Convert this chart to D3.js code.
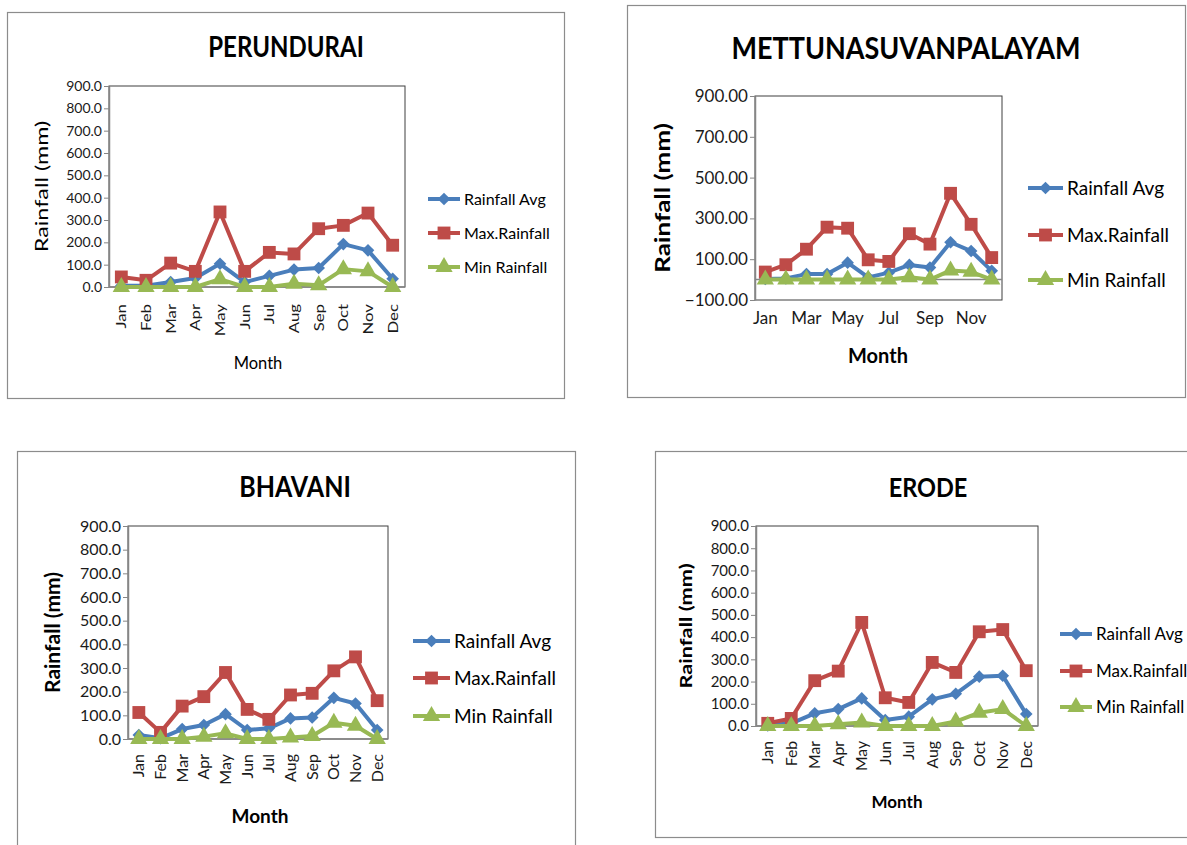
<!DOCTYPE html>
<html>
<head>
<meta charset="utf-8">
<script src="https://cdn.jsdelivr.net/npm/d3@7"></script>
<style>
  body { margin: 0; background: #fff; }
  svg { font-family: Lato, "Open Sans", sans-serif; }
</style>
</head>
<body>
<div id="chart"></div>
<script>
// monthly rainfall, values
var months = ["Jan","Feb","Mar","Apr","May","Jun","Jul","Aug","Sep","Oct","Nov","Dec"]
var seriesNames = ["Rainfall Avg", "Max.Rainfall", "Min Rainfall"]

var perunduraiAvg = [6, 6, 22, 40, 104, 22, 50, 78, 85, 192, 164, 37]
var perunduraiMax = [45, 30, 107, 70, 336, 70, 155, 148, 261, 276, 331, 187]
var perunduraiMin = [0, 0, 0, 0, 35, 0, 0, 15, 8, 80, 70, 0]

var mettuAvg = [3, 6, 27, 27, 83, 11, 34, 72, 59, 183, 140, 43]
var mettuMax = [37, 73, 149, 257, 252, 97, 89, 225, 174, 423, 271, 108]
var mettuMin = [0, 0, 0, 0, 0, 0, 0, 12, 0, 45, 38, 0]

var bhavaniAvg = [17, 3, 42, 59, 105, 38, 45, 87, 91, 174, 150, 38]
var bhavaniMax = [112, 28, 139, 179, 281, 125, 83, 186, 193, 288, 347, 162]
var bhavaniMin = [0, 0, 0, 10, 24, 0, 0, 6, 13, 69, 56, 0]

var erodeAvg = [3, 12, 57, 76, 124, 27, 42, 120, 145, 222, 226, 54]
var erodeMax = [12, 34, 204, 247, 466, 127, 106, 286, 241, 424, 434, 249]
var erodeMin = [0, 0, 0, 8, 16, 0, 0, 0, 20, 60, 76, 0]

var colors = ["#4a7ebb", "#be4b48", "#98b954"]
// excel diamond = square turned 45 degrees
var symbols = [d3.symbolSquare, d3.symbolSquare, d3.symbolTriangle]
var symbolRot = [45, 0, 0]
var symbolSize = [80, 165, 130]

var W = 1187, H = 845

var svg = d3.select("#chart")
  .append("svg")
    .attr("width", W)
    .attr("height", H)

svg.append("rect").attr("width", W).attr("height", H).attr("fill", "#fff")

// layout of each chart object (pixels); the pasted pictures are a bit stretched, hence the stretch factors
var panels = [
  { title: "PERUNDURAI", series: [perunduraiAvg, perunduraiMax, perunduraiMin],
    box: [7, 12, 557, 386], titleX: 286, titleY: 57, titleSize: 24,
    plot: [109, 86, 405, 287], domain: [0, 900], step: 100, fmt: ".1f", tickSize: 14,
    rotate: true, xLabY: 304, every: 1, labStretch: 1.2,
    monthX: 258, monthY: 369, monthSize: 16.5, bold: false,
    yTitleX: 42, yTitleSize: 18, yTitleStretch: 1.3,
    legX: 428, legY: [199, 233, 267], legSize: 16, legLine: 32 },
  { title: "METTUNASUVANPALAYAM", series: [mettuAvg, mettuMax, mettuMin],
    box: [627, 5, 558, 392], titleX: 906, titleY: 59, titleSize: 27,
    plot: [755, 96, 1002, 300], domain: [-100, 900], step: 200, fmt: ".2f", tickSize: 17,
    rotate: false, xLabY: 324, every: 2, labStretch: 1,
    monthX: 878, monthY: 363, monthSize: 20, bold: true,
    yTitleX: 663, yTitleSize: 20, yTitleStretch: 1.3,
    legX: 1028, legY: [188, 235, 280], legSize: 19, legLine: 35 },
  { title: "BHAVANI", series: [bhavaniAvg, bhavaniMax, bhavaniMin],
    box: [17, 451, 558, 400], titleX: 295, titleY: 497, titleSize: 25,
    plot: [128, 526, 388, 739], domain: [0, 900], step: 100, fmt: ".1f", tickSize: 16,
    rotate: true, xLabY: 754, every: 1, labStretch: 1,
    monthX: 260, monthY: 823, monthSize: 19, bold: true,
    yTitleX: 53, yTitleSize: 20, yTitleStretch: 1.05,
    legX: 413, legY: [641, 678, 716], legSize: 19, legLine: 37 },
  { title: "ERODE", series: [erodeAvg, erodeMax, erodeMin],
    box: [655, 451, 545, 386], titleX: 928, titleY: 497, titleSize: 23.5,
    plot: [756, 526, 1038, 726], domain: [0, 900], step: 100, fmt: ".1f", tickSize: 15,
    rotate: true, xLabY: 741, every: 1, labStretch: 1.05,
    monthX: 897, monthY: 808, monthSize: 17, bold: true,
    yTitleX: 686, yTitleSize: 17, yTitleStretch: 1.28,
    legX: 1060, legY: [634, 671, 707], legSize: 17, legLine: 32 }
]

panels.forEach(drawPanel)

function drawPanel(p) {
  var g = svg.append("g")

  g.append("rect")
    .attr("x", p.box[0] + 0.5).attr("y", p.box[1] + 0.5)
    .attr("width", p.box[2]).attr("height", p.box[3])
    .attr("fill", "#fff")
    .attr("stroke", "#8c8c8c")
    .attr("stroke-width", 1.2)

  g.append("text")
    .attr("transform", "translate(" + p.titleX + "," + p.titleY + ")scale(1,1.15)")
    .attr("text-anchor", "middle")
    .attr("font-size", p.titleSize)
    .attr("font-weight", "bold")
    .text(p.title)

  var left = p.plot[0], top = p.plot[1], right = p.plot[2], bottom = p.plot[3]

  var xScale = d3.scalePoint()
    .domain(months)
    .range([left, right])
    .padding(0.5)

  var yScale = d3.scaleLinear()
    .domain(p.domain)
    .range([bottom, top])

  // plot area border
  g.append("rect")
    .attr("x", left).attr("y", top)
    .attr("width", right - left).attr("height", bottom - top)
    .attr("fill", "none")
    .attr("stroke", "#3f3f3f")
    .attr("stroke-width", 1)

  var yTicks = d3.range(p.domain[0], p.domain[1] + 1, p.step)
  var yAxis = g.append("g")
    .attr("transform", "translate(" + left + ",0)")
    .call(d3.axisLeft(yScale).tickValues(yTicks).tickFormat(d3.format(p.fmt)).tickSize(5).tickSizeOuter(0))
  yAxis.select(".domain").attr("stroke", "#868686").attr("stroke-width", 1.5)
  yAxis.selectAll(".tick line").attr("stroke", "#868686")
  yAxis.selectAll(".tick text")
    .attr("font-family", "Lato, sans-serif")
    .attr("font-size", p.tickSize)
    .attr("fill", "#1a1a1a")
    .attr("x", -7)

  // category axis crosses at zero
  g.append("line")
    .attr("x1", left).attr("x2", right)
    .attr("y1", yScale(0)).attr("y2", yScale(0))
    .attr("stroke", "#868686")
    .attr("stroke-width", 1.5)

  var xLabels = g.append("g").selectAll("text")
    .data(months.filter(function(d, i) { return i % p.every == 0 }))
    .enter()
    .append("text")
    .attr("font-size", p.tickSize)
    .attr("fill", "#1a1a1a")
    .text(function(d) { return d })

  if (p.rotate) {
    xLabels
      .attr("text-anchor", "end")
      .attr("dy", "0.35em")
      .attr("transform", function(d) {
        return "translate(" + xScale(d) + "," + p.xLabY + ")rotate(-90)scale(" + p.labStretch + ",1)"
      })
  } else {
    xLabels
      .attr("text-anchor", "middle")
      .attr("x", function(d) { return xScale(d) })
      .attr("y", p.xLabY)
  }

  g.append("text")
    .attr("x", p.monthX).attr("y", p.monthY)
    .attr("text-anchor", "middle")
    .attr("font-size", p.monthSize)
    .attr("font-weight", p.bold ? "bold" : "normal")
    .text("Month")

  g.append("text")
    .attr("transform", "translate(" + p.yTitleX + "," + ((top + bottom) / 2) + ")rotate(-90)scale(" + p.yTitleStretch + ",1)")
    .attr("text-anchor", "middle")
    .attr("dy", "0.35em")
    .attr("font-size", p.yTitleSize)
    .attr("font-weight", p.bold ? "bold" : "normal")
    .text("Rainfall (mm)")

  var line = d3.line()
    .x(function(d, i) { return xScale(months[i]) })
    .y(function(d) { return yScale(d) })

  p.series.forEach(function(values, s) {
    g.append("path")
      .datum(values)
      .attr("d", line)
      .attr("fill", "none")
      .attr("stroke", colors[s])
      .attr("stroke-width", 4)
      .attr("stroke-linejoin", "round")

    g.append("g").selectAll("path")
      .data(values)
      .enter()
      .append("path")
      .attr("d", d3.symbol().type(symbols[s]).size(symbolSize[s]))
      .attr("transform", function(d, i) {
        return "translate(" + xScale(months[i]) + "," + yScale(d) + ")rotate(" + symbolRot[s] + ")"
      })
      .attr("fill", colors[s])
  })

  // legend
  var legend = g.append("g").selectAll("g")
    .data(seriesNames)
    .enter()
    .append("g")
    .attr("transform", function(d, i) { return "translate(" + p.legX + "," + p.legY[i] + ")" })

  legend.append("line")
    .attr("x1", 0).attr("x2", p.legLine)
    .attr("stroke", function(d, i) { return colors[i] })
    .attr("stroke-width", 4)

  legend.append("path")
    .attr("d", function(d, i) { return d3.symbol().type(symbols[i]).size(symbolSize[i])() })
    .attr("transform", function(d, i) { return "translate(" + (p.legLine / 2) + ",0)rotate(" + symbolRot[i] + ")" })
    .attr("fill", function(d, i) { return colors[i] })

  legend.append("text")
    .attr("x", p.legLine + 4)
    .attr("dy", "0.35em")
    .attr("font-size", p.legSize)
    .text(function(d) { return d })
}
</script>
</body>
</html>
